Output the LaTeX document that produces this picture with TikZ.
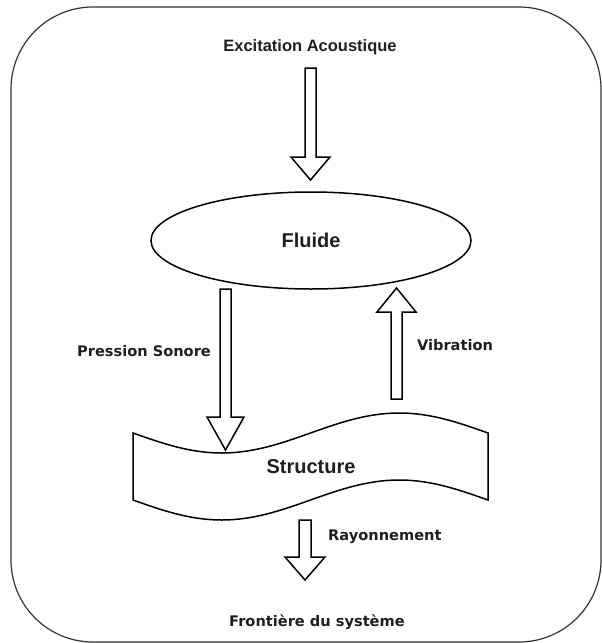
\documentclass[tikz,border=0pt]{standalone}
\usepackage{fontspec}
\setmainfont{Liberation Sans}
\newfontfamily\dejab{DejaVu Sans}
\usetikzlibrary{shapes.geometric}
\tikzset{
  blockarr/.style={draw=black, line width=1.5pt, fill=white, line join=miter},
  lblA/.style={font=\bfseries\fontsize{16.5}{18}\selectfont, text=black!88, inner sep=0pt},
  lblD/.style={font=\dejab\bfseries\fontsize{14.6}{17}\selectfont, text=black!88, inner sep=0pt},
  bigl/.style={font=\bfseries\fontsize{20}{22}\selectfont, text=black!88, inner sep=0pt},
}
\begin{document}
\begin{tikzpicture}[x=1pt,y=-1pt]
\useasboundingbox (0,0) rectangle (602,643);
% outer frame
\draw[line width=1.2pt, draw=black!80, rounded corners=82pt] (11,7) rectangle (601,642);

% title
\node[lblA] (exc) at (310,47) {Excitation Acoustique};

% arrow 1 down
\draw[blockarr] (305,68) -- (316,68) -- (316,157) -- (330,157) -- (310.5,180) -- (291,157) -- (305,157) -- cycle;

% fluid ellipse
\node[draw, line width=1.5pt, ellipse, minimum width=320pt, minimum height=97pt, inner sep=0pt, bigl] (fluide) at (311,240.5) {Fluide};

% arrow 2 down (pression)
\draw[blockarr] (220,289) -- (231,289) -- (231,417) -- (244,417) -- (225.5,450) -- (207,417) -- (220,417) -- cycle;
\node[lblD] (pres) at (144,351) {Pression Sonore};

% arrow 3 up (vibration)
\draw[blockarr] (391,399) -- (402,399) -- (402,312) -- (416,312) -- (396.5,288) -- (377,312) -- (391,312) -- cycle;
\node[lblD] (vib) at (455,345) {Vibration};

% structure tape
\draw[line width=1.5pt, fill=white, line join=miter]
  (133,433) sin (221.75,453) cos (310.5,433) sin (399.25,413) cos (488,433)
  -- (488,500) sin (399.25,480) cos (310.5,500) sin (221.75,520) cos (133,500) -- cycle;
\node[bigl] (struct) at (311,467) {Structure};

% arrow 4 down (rayonnement)
\draw[blockarr] (299,520) -- (311,520) -- (311,557) -- (325,557) -- (305,580) -- (285,557) -- (299,557) -- cycle;
\node[lblD, anchor=west] (ray) at (328,537) {Rayonnement};

\node[lblD] (front) at (317,622) {Frontière du système};
\end{tikzpicture}
\end{document}
